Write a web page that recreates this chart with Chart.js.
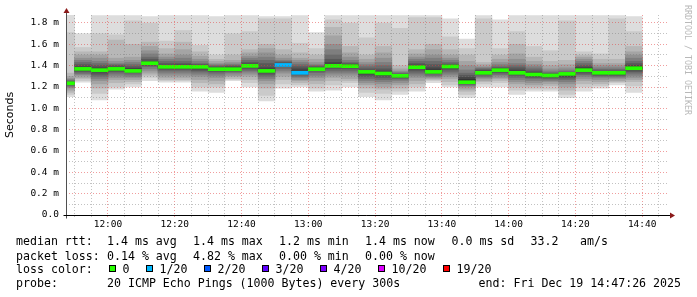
<!DOCTYPE html>
<html>
<head>
<meta charset="utf-8">
<script src="https://cdn.jsdelivr.net/npm/chart.js@4.4.1/dist/chart.umd.min.js"></script>
<style>
body { margin: 0; background: #fff; }
#wrap { position: relative; width: 697px; height: 297px; overflow: hidden; font-family: 'DejaVu Sans Mono', monospace; }
#wrap canvas { position: absolute; left: 0; top: 0; }
.t { position: absolute; font-size: 11.6px; line-height: 14px; white-space: pre; color: #000; }
.sw { position: absolute; width: 5px; height: 5px; border: 1px solid #000; }
#mark { position: absolute; left: 683px; top: 5px; writing-mode: vertical-rl; font-size: 8.3px; line-height: 10px; color: #b8b8b8; white-space: pre; }
</style>
</head>
<body>
<div id="wrap">
<canvas id="smoke" width="697" height="297"></canvas>
<div id="mark">RRDTOOL / TOBI OETIKER</div>
</div>
<script>
// 5 minute bins, start time of each bin
const binStart = ['11:45','11:50','11:55','12:00','12:05','12:10','12:15','12:20','12:25','12:30',
	'12:35','12:40','12:45','12:50','12:55','13:00','13:05','13:10','13:15','13:20',
	'13:25','13:30','13:35','13:40','13:45','13:50','13:55','14:00','14:05','14:10',
	'14:15','14:20','14:25','14:30','14:35'];
const medianRtt = [1.235,1.370,1.358,1.370,1.351,1.423,1.389,1.389,1.389,1.367,
	1.367,1.398,1.351,1.407,1.333,1.367,1.398,1.395,1.342,1.327,
	1.305,1.386,1.342,1.392,1.245,1.333,1.358,1.333,1.317,1.308,
	1.323,1.358,1.333,1.333,1.376];
const lossCount = [0,0,0,0,0,0,0,0,0,0, 0,0,0,1,1,0,0,0,0,0, 0,0,0,0,0,0,0,0,0,0, 0,0,0,0,0];
// sorted ping rtt (ms) of each bin
const pings = [
	[1.11,1.13,1.15,1.17,1.19,1.20,1.21,1.22,1.225,1.23,1.235,1.24,1.25,1.26,1.27,1.28,1.30,1.33,1.71,1.88],
	[1.245,1.26,1.28,1.29,1.31,1.32,1.33,1.345,1.355,1.365,1.375,1.39,1.41,1.43,1.45,1.47,1.50,1.53,1.57,1.70],
	[1.08,1.14,1.19,1.23,1.26,1.28,1.30,1.32,1.34,1.355,1.365,1.38,1.40,1.42,1.44,1.47,1.50,1.53,1.70,1.87],
	[1.18,1.20,1.24,1.27,1.29,1.31,1.33,1.345,1.355,1.365,1.375,1.385,1.40,1.41,1.42,1.44,1.47,1.64,1.69,1.87],
	[1.20,1.23,1.25,1.27,1.29,1.30,1.32,1.335,1.345,1.35,1.36,1.375,1.39,1.41,1.43,1.45,1.48,1.60,1.82,1.87],
	[1.26,1.29,1.31,1.33,1.35,1.37,1.39,1.40,1.41,1.42,1.43,1.44,1.46,1.48,1.51,1.54,1.58,1.62,1.80,1.86],
	[1.245,1.26,1.27,1.29,1.31,1.33,1.35,1.365,1.375,1.385,1.395,1.40,1.42,1.44,1.46,1.48,1.51,1.56,1.63,1.87],
	[1.245,1.26,1.27,1.29,1.31,1.33,1.35,1.365,1.375,1.385,1.395,1.405,1.42,1.44,1.47,1.50,1.55,1.62,1.73,1.87],
	[1.16,1.20,1.24,1.27,1.30,1.32,1.34,1.355,1.37,1.385,1.395,1.40,1.41,1.42,1.44,1.46,1.49,1.53,1.59,1.87],
	[1.15,1.20,1.23,1.26,1.29,1.31,1.33,1.345,1.355,1.365,1.37,1.38,1.39,1.40,1.41,1.42,1.44,1.46,1.50,1.86],
	[1.26,1.27,1.28,1.30,1.31,1.33,1.34,1.35,1.36,1.368,1.375,1.385,1.395,1.405,1.415,1.43,1.45,1.50,1.70,1.87],
	[1.20,1.24,1.27,1.30,1.32,1.34,1.355,1.37,1.385,1.395,1.405,1.415,1.43,1.45,1.47,1.49,1.52,1.55,1.72,1.87],
	[1.07,1.12,1.19,1.23,1.26,1.28,1.30,1.32,1.34,1.35,1.36,1.38,1.42,1.45,1.48,1.52,1.56,1.60,1.84,1.86],
	[1.19,1.23,1.27,1.30,1.33,1.35,1.37,1.39,1.40,1.405,1.41,1.42,1.43,1.44,1.45,1.47,1.50,1.55,1.84,1.86],
	[1.20,1.22,1.24,1.26,1.27,1.29,1.30,1.315,1.325,1.335,1.345,1.37,1.39,1.41,1.43,1.45,1.47,1.52,1.61,1.87],
	[1.16,1.19,1.23,1.26,1.29,1.31,1.335,1.35,1.36,1.37,1.375,1.38,1.39,1.40,1.41,1.43,1.46,1.50,1.56,1.71],
	[1.17,1.22,1.26,1.29,1.31,1.33,1.35,1.37,1.39,1.40,1.41,1.43,1.46,1.50,1.55,1.60,1.68,1.76,1.83,1.87],
	[1.20,1.24,1.26,1.28,1.31,1.33,1.35,1.37,1.385,1.395,1.40,1.41,1.42,1.43,1.45,1.48,1.52,1.58,1.80,1.87],
	[1.11,1.15,1.19,1.22,1.24,1.26,1.28,1.30,1.32,1.335,1.345,1.355,1.37,1.39,1.41,1.43,1.46,1.50,1.66,1.87],
	[1.08,1.14,1.18,1.20,1.23,1.25,1.27,1.29,1.31,1.325,1.335,1.35,1.37,1.40,1.43,1.47,1.52,1.58,1.80,1.87],
	[1.13,1.16,1.19,1.22,1.24,1.26,1.275,1.285,1.295,1.30,1.31,1.315,1.32,1.33,1.34,1.35,1.37,1.40,1.75,1.87],
	[1.16,1.20,1.23,1.26,1.29,1.31,1.33,1.35,1.37,1.385,1.395,1.405,1.42,1.44,1.46,1.48,1.51,1.55,1.85,1.87],
	[1.24,1.26,1.27,1.28,1.29,1.30,1.31,1.325,1.335,1.345,1.36,1.38,1.41,1.44,1.47,1.50,1.55,1.60,1.85,1.87],
	[1.20,1.22,1.25,1.28,1.30,1.32,1.34,1.36,1.375,1.385,1.395,1.405,1.415,1.43,1.45,1.47,1.50,1.55,1.67,1.84],
	[1.10,1.13,1.16,1.18,1.20,1.21,1.22,1.23,1.24,1.25,1.27,1.29,1.31,1.33,1.36,1.40,1.44,1.50,1.56,1.65],
	[1.20,1.23,1.25,1.26,1.28,1.29,1.30,1.315,1.325,1.335,1.34,1.35,1.36,1.37,1.38,1.39,1.41,1.43,1.84,1.87],
	[1.20,1.24,1.26,1.28,1.29,1.31,1.32,1.335,1.345,1.355,1.36,1.37,1.38,1.39,1.41,1.43,1.46,1.50,1.56,1.83],
	[1.13,1.17,1.20,1.23,1.25,1.27,1.29,1.31,1.325,1.335,1.345,1.36,1.38,1.40,1.42,1.46,1.51,1.60,1.72,1.87],
	[1.16,1.18,1.20,1.22,1.24,1.26,1.28,1.29,1.30,1.315,1.325,1.335,1.35,1.37,1.39,1.41,1.44,1.48,1.58,1.87],
	[1.16,1.18,1.21,1.23,1.25,1.26,1.275,1.285,1.295,1.305,1.31,1.315,1.325,1.335,1.35,1.37,1.40,1.44,1.54,1.87],
	[1.10,1.13,1.17,1.20,1.23,1.25,1.27,1.285,1.30,1.315,1.32,1.325,1.335,1.345,1.36,1.38,1.41,1.45,1.82,1.87],
	[1.16,1.20,1.23,1.26,1.28,1.30,1.315,1.33,1.345,1.355,1.37,1.385,1.40,1.42,1.44,1.46,1.48,1.50,1.53,1.87],
	[1.19,1.21,1.23,1.25,1.27,1.29,1.30,1.31,1.32,1.33,1.335,1.34,1.35,1.365,1.38,1.40,1.42,1.46,1.51,1.87],
	[1.22,1.24,1.25,1.26,1.28,1.29,1.30,1.31,1.32,1.33,1.335,1.34,1.35,1.365,1.38,1.40,1.42,1.46,1.84,1.87],
	[1.15,1.21,1.25,1.27,1.29,1.31,1.33,1.345,1.36,1.37,1.385,1.40,1.42,1.44,1.47,1.50,1.53,1.58,1.72,1.86]
];
const timeTicks = ['12:00','12:20','12:40','13:00','13:20','13:40','14:00','14:20','14:40'];
const rttTicks = ['0.0','0.2 m','0.4 m','0.6 m','0.8 m','1.0 m','1.2 m','1.4 m','1.6 m','1.8 m'];
const lossColors = ['#26ff00','#00b8ff','#0059ff','#5e00ff','#7e00ff','#dd00ff','#ff0000'];
const lossLabels = ['0','1/20','2/20','3/20','4/20','10/20','19/20'];
const graphStart = '11:47:26';
const graphEnd = '14:47:26';
const rttSummary = ['1.4 ms avg','1.4 ms max','1.2 ms min','1.4 ms now','0.0 ms sd','33.2','am/s'];
const lossSummary = ['0.14 % avg','4.82 % max','0.00 % min','0.00 % now'];
const probeText = '20 ICMP Echo Pings (1000 Bytes) every 300s';
const endText = 'end: Fri Dec 19 14:47:26 2025';

function toMin(s) {
	const p = s.split(':').map(Number);
	return p[0] * 60 + p[1] + (p[2] || 0) / 60;
}
const xMin = toMin(graphStart), xMax = toMin(graphEnd);
const step = 5;
const tickPos = timeTicks.map(toMin);
const minorX = [];
for (let v = Math.ceil(xMin / step) * step; v < xMax; v += step) minorX.push(v);
const mono = "'DejaVu Sans Mono', monospace";
const gridMinor = 'rgba(120,120,120,0.45)';
const gridMajor = 'rgba(225,60,60,0.5)';
const half = 0.014; // median line half thickness (ms)

// smokeping shades, outer band lightest
const shades = [];
for (let b = 0; b < 10; b++) {
	const c = Math.floor(190 / 10 * (10 - (b + 1))) + 50;
	shades.push(`rgb(${c},${c},${c})`);
}

const datasets = [{
	label: 'median rtt',
	data: binStart.map((t, i) => ({ x: toMin(t) + step / 2, y: [medianRtt[i] - half, medianRtt[i] + half] })),
	backgroundColor: lossCount.map(n => lossColors[n]),
	order: 0
}];
for (let b = 0; b < 10; b++) {
	datasets.push({
		label: 'smoke ' + (b + 1),
		data: binStart.map((t, i) => ({ x: toMin(t) + step / 2, y: [pings[i][b], pings[i][19 - b]] })),
		backgroundColor: shades[b],
		order: 10 - b
	});
}

const axisArrows = {
	id: 'axisArrows',
	afterDraw(chart) {
		const { ctx, chartArea: a } = chart;
		const x0 = Math.round(a.left) + 0.5, y0 = Math.round(a.bottom) + 0.5;
		ctx.save();
		ctx.lineWidth = 1;
		ctx.strokeStyle = '#505050';
		ctx.beginPath(); ctx.moveTo(x0, y0 + 3); ctx.lineTo(x0, a.top - 2); ctx.stroke();
		ctx.strokeStyle = '#000';
		ctx.beginPath(); ctx.moveTo(x0 - 3, y0); ctx.lineTo(a.right + 3, y0); ctx.stroke();
		ctx.fillStyle = '#8b1a1a';
		ctx.beginPath(); ctx.moveTo(x0, a.top - 7); ctx.lineTo(x0 - 3, a.top - 2); ctx.lineTo(x0 + 3, a.top - 2); ctx.closePath(); ctx.fill();
		ctx.beginPath(); ctx.moveTo(a.right + 8, y0); ctx.lineTo(a.right + 3, y0 - 3); ctx.lineTo(a.right + 3, y0 + 3); ctx.closePath(); ctx.fill();
		ctx.restore();
	}
};

new Chart(document.getElementById('smoke'), {
	type: 'bar',
	data: { datasets },
	plugins: [axisArrows],
	options: {
		responsive: false,
		animation: false,
		devicePixelRatio: 1,
		layout: { padding: { top: 15, right: 30, left: 0, bottom: 0 } },
		datasets: { bar: { grouped: false, barPercentage: 1, categoryPercentage: 1, borderWidth: 0 } },
		plugins: { legend: { display: false }, tooltip: { enabled: false } },
		scales: {
			x: {
				type: 'linear',
				min: xMin,
				max: xMax,
				offset: false,
				afterBuildTicks: s => { s.ticks = minorX.map(v => ({ value: v })); },
				afterFit: s => { s.height = 82; },
				grid: {
					offset: false, z: 1, drawTicks: true, tickLength: 2,
					color: c => (tickPos.includes(c.tick.value) ? gridMajor : gridMinor)
				},
				border: { display: false, dash: [1, 2] },
				ticks: {
					autoSkip: false, maxRotation: 0, padding: 2, color: '#000',
					font: { family: mono, size: 9.5 },
					callback: v => { const k = tickPos.indexOf(v); return k >= 0 ? timeTicks[k] : ''; }
				}
			},
			y: {
				type: 'linear',
				min: 0,
				max: 1.875,
				afterBuildTicks: s => { const t = []; for (let i = 0; i <= 18; i++) t.push({ value: i / 10 }); s.ticks = t; },
				afterFit: s => { s.width = 66; },
				grid: {
					z: 1, drawTicks: false,
					color: c => (c.index % 2 === 0 ? gridMajor : gridMinor)
				},
				border: { display: false, dash: [1, 2] },
				ticks: {
					autoSkip: false, padding: 7, color: '#000',
					font: { family: mono, size: 9.5 },
					callback: (v, i) => (i % 2 === 0 ? rttTicks[i / 2] : '')
				},
				title: { display: true, text: 'Seconds', color: '#000', padding: { top: 4, bottom: 0 }, font: { family: "'DejaVu Sans', sans-serif", size: 11 } }
			}
		}
	}
});

// legend rows under the graph
const wrap = document.getElementById('wrap');
function put(text, x, y, right) {
	const d = document.createElement('div');
	d.className = 't';
	d.textContent = text;
	d.style.top = y + 'px';
	if (right) d.style.right = (697 - x) + 'px'; else d.style.left = x + 'px';
	wrap.appendChild(d);
}
const cols = [107, 193, 279, 365, 451.5, 530.5, 580];
const rowY = [234, 248.7, 262.3, 276.3];
put('median rtt:', 16, rowY[0]);
rttSummary.forEach((s, i) => put(s, cols[i], rowY[0]));
put('packet loss:', 16, rowY[1]);
lossSummary.forEach((s, i) => put(s, cols[i], rowY[1]));
put('loss color:', 16, rowY[2]);
let sx = 108.5;
lossLabels.forEach((s, i) => {
	const b = document.createElement('div');
	b.className = 'sw';
	b.style.left = sx + 'px';
	b.style.top = '265px';
	b.style.background = lossColors[i];
	wrap.appendChild(b);
	put(s, sx + 14, rowY[2]);
	sx += 14 + 7 * s.length + 16;
});
put('probe:', 16, rowY[3]);
put(probeText, 107, rowY[3]);
put(endText, 681, rowY[3], true);
</script>
</body>
</html>
